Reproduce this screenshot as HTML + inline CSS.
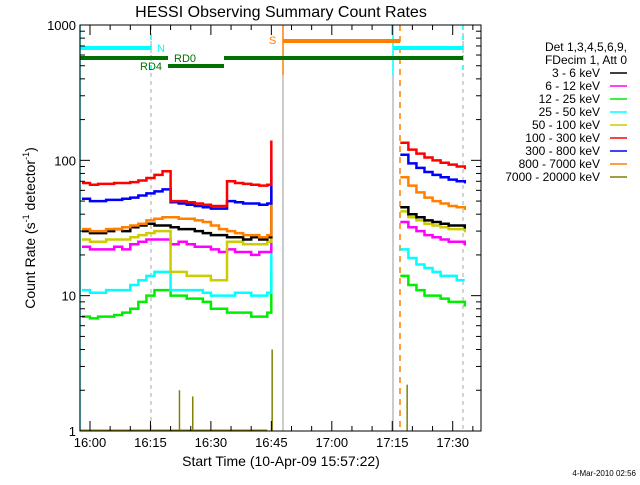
<!DOCTYPE html>
<html><head><meta charset="utf-8"><style>
body{margin:0;background:#fff;width:640px;height:480px;overflow:hidden}
svg text{font-family:"Liberation Sans",sans-serif}
</style></head><body>
<svg id="chart" width="640" height="480" xmlns="http://www.w3.org/2000/svg">
<text x="281" y="17" font-size="16" text-anchor="middle">HESSI Observing Summary Count Rates</text>
<text transform="translate(35,228) rotate(-90)" font-size="14" text-anchor="middle">Count Rate (s<tspan font-size="9" dy="-6">-1</tspan><tspan dy="6"> detector</tspan><tspan font-size="9" dy="-6">-1</tspan><tspan dy="6">)</tspan></text>
<text x="281" y="466" font-size="14" text-anchor="middle">Start Time (10-Apr-09 15:57:22)</text>
<text x="636" y="476" font-size="8" text-anchor="end">4-Mar-2010 02:56</text>
<g id="marks"></g>
<g id="axes"></g>
<g id="legend"></g>
</svg>
<script>
const tLeft=[-2,0,2,4,6,8,10,12,14,16,18,20,22,24,26,28,30,32,34,36,38,40,42,44];
const tRight=[77,79,81,83,85,87,89,91,93];
const names=["3 - 6 keV","6 - 12 keV","12 - 25 keV","25 - 50 keV","50 - 100 keV","100 - 300 keV","300 - 800 keV","800 - 7000 keV","7000 - 20000 keV"];
const colors=["#000","#ff00ff","#00ee00","#00ffff","#cccc00","#ff0000","#0000ff","#ff8000","#808000"];
const blackL=[30,29,29,30,31,30,32,33,34,33,33,32,31,31,30,29,28,28,27,27,26,27,26,27];
const magentaL=[23,22,22,22,23,22,24,25,26,26,26,24,25,24,23,23,22,21,22,21,21,20,21,21];
const greenL=[7,6.8,7,7,7.2,7.5,8,9,10,11,11,10,10,9.5,9.5,9,8,8,7.5,7.5,7.5,7,7,7.5];
const cyanL=[11,10.5,10.5,11,11,11,12,13,14,15,15,11,11,11,11,10.5,10,10,10,10.5,10.5,10,10,10.5];
const yellowL=[26,25,25,26,26,26,27,28,29,30,30,15,15,14,14,14,13,13,25,25,24,24,24,25];
const redL=[68,66,67,67,68,68,69,71,74,78,83,50,50,49,48,47,46,46,70,68,67,66,65,66];
const blueL=[52,50,50,51,51,52,53,55,57,59,61,49,48,47,46,45,44,44,50,49,48,48,47,48];
const orangeL=[31,30,30,31,31,32,33,34,36,37,38,38,37,37,36,35,33,31,30,29,28,28,27,28];
const spikes=[60,45,15,25,50,140,100,80,1];
const blackR=[45,40,38,36,35,34,33,33,32];
const magentaR=[35,32,30,28,27,26,25,25,24];
const greenR=[14,12,11,10,10,9.5,9,9,8.5];
const cyanR=[22,19,17,16,15,14,14,13,13];
const yellowR=[42,38,36,34,33,32,31,31,30];
const redR=[135,120,112,105,100,96,93,90,88];
const blueR=[110,95,88,82,78,75,72,70,69];
const orangeR=[75,65,58,53,50,48,46,45,44];
const olivePeakTimes=[22.2,25.5,45.2,78.7];
const olivePeakVals=[2,1.8,4,2.2];
const xTickLabels=["16:00","16:15","16:30","16:45","17:00","17:15","17:30"];
const xTickTimes=[0,15,30,45,60,75,90];
const yTickVals=[1,10,100,1000];

const NS="http://www.w3.org/2000/svg";
const X0=80,X1=481,Y0=431,Y1=25;
const xs=t=>90+t*4.03;
const ys=v=>Y0-(Math.log10(v))*(Y0-Y1)/3;
const marks=document.getElementById('marks');
const axes=document.getElementById('axes');
const leg=document.getElementById('legend');
function mk(tag,attrs,parent){const e=document.createElementNS(NS,tag);for(const k in attrs)e.setAttribute(k,attrs[k]);parent.appendChild(e);return e;}

[[151,'#aaa','4,4'],[283,'#999',''],[393,'#999',''],[463,'#aaa','4,4']].forEach(v=>{
 const l=mk('line',{x1:v[0],x2:v[0],y1:Y1,y2:Y0,stroke:v[1],'stroke-width':1,'stroke-dasharray':v[2]},marks);
 
 
});
[[80,'#00ffff','',Y0],[151,'#00ffff','5,5',75],[283,'#ff8000','',75],[393,'#00ffff','',75],[400,'#ff8000','6,5',Y0],[463,'#00ffff','5,5',75]].forEach(v=>{
 const l=mk('line',{x1:v[0],x2:v[0],y1:Y1,y2:v[3],stroke:v[1],'stroke-width':1.5,'stroke-dasharray':v[2]},marks);
 
 
});

function path(ts,vs,spikeV,color,name,lastW){
 let d='';
 ts.forEach((t,i)=>{const x=xs(t),y=ys(vs[i]);
  if(i===0)d+=`M${Math.max(X0,x)},${y}`;else d+=`V${y}`;
  const nx=i<ts.length-1?xs(ts[i+1]):x+lastW; d+=`H${nx}`;});
 if(spikeV!=null){d+=`V${ys(spikeV)}`;}
 const p=mk('path',{d:d,fill:'none',stroke:color,'stroke-width':2.5},marks);
 
 
}
const L=[blackL,magentaL,greenL,cyanL,yellowL,redL,blueL,orangeL];
const R=[blackR,magentaR,greenR,cyanR,yellowR,redR,blueR,orangeR];
const order=[2,3,1,4,0,7,6,5];
order.forEach(i=>{
 path(tLeft,L[i],spikes[i],colors[i],'series-'+i+'-left',4);
 path(tRight,R[i],null,colors[i],'series-'+i+'-right',-1);
});
const ob=mk('line',{x1:X0,x2:xs(44),y1:Y0-1,y2:Y0-1,stroke:'#808000','stroke-width':1},marks);


olivePeakTimes.forEach((t,i)=>{
 const l=mk('line',{x1:xs(t),x2:xs(t),y1:Y0,y2:ys(olivePeakVals[i]),stroke:'#808000','stroke-width':1.5},marks);
 
 
});

[[80,151,48,'#00ffff',4],[393,463,48,'#00ffff',4],[283,400,41,'#ff8000',4],[80,168,58,'#007000',4],[224,463,58,'#007000',4],[168,224,66,'#007000',4]].forEach(b=>{
 const l=mk('line',{x1:b[0],x2:b[1],y1:b[2],y2:b[2],stroke:b[3],'stroke-width':b[4]},marks);
 
 
});
[['N',157,52,'#00ffff'],['S',269,44,'#ff8000'],['RD0',174,62,'#007000'],['RD4',140,70,'#007000']].forEach(s=>{
 const t=mk('text',{x:s[1],y:s[2],fill:s[3],'font-size':11},marks);t.textContent=s[0];
 
 
});

const box=mk('rect',{x:X0,y:Y1,width:X1-X0,height:Y0-Y1,fill:'none',stroke:'#000','stroke-width':1},axes);


for(let dec=0;dec<3;dec++){for(let m=2;m<=9;m++){const v=Math.pow(10,dec)*m;const y=ys(v);
 mk('line',{x1:X0,x2:X0+5,y1:y,y2:y,stroke:'#000'},axes);mk('line',{x1:X1-5,x2:X1,y1:y,y2:y,stroke:'#000'},axes);}}
yTickVals.forEach(v=>{const y=ys(v);
 mk('line',{x1:X0,x2:X0+10,y1:y,y2:y,stroke:'#000'},axes);mk('line',{x1:X1-10,x2:X1,y1:y,y2:y,stroke:'#000'},axes);
 const t=mk('text',{x:76,y:y+5,'font-size':13,'text-anchor':'end'},axes);t.textContent=v;
 
 
});
for(let t=-2;t<=96;t++){if(t%5!==0)continue;const x=xs(t);if(x<X0||x>X1)continue;
 const len=t%15===0?10:5;
 mk('line',{x1:x,x2:x,y1:Y0,y2:Y0-len,stroke:'#000'},axes);mk('line',{x1:x,x2:x,y1:Y1,y2:Y1+len,stroke:'#000'},axes);}
xTickTimes.forEach((t,i)=>{const tx=mk('text',{x:xs(t),y:447,'font-size':13,'text-anchor':'middle'},axes);tx.textContent=xTickLabels[i];
 
 
});

[['Det 1,3,4,5,6,9,',51],['FDecim 1, Att 0',64]].forEach(h=>{const t=mk('text',{x:627,y:h[1],'font-size':12,'text-anchor':'end'},leg);t.textContent=h[0];
 
 
});
names.forEach((n,i)=>{const y=77+i*13;
 const t=mk('text',{x:600,y:y,'font-size':12,'text-anchor':'end'},leg);t.textContent=n;
 
 
 const l=mk('line',{x1:610,x2:627,y1:y-4,y2:y-4,stroke:colors[i],'stroke-width':1.5},leg);
 
 
});
</script>
</body></html>
